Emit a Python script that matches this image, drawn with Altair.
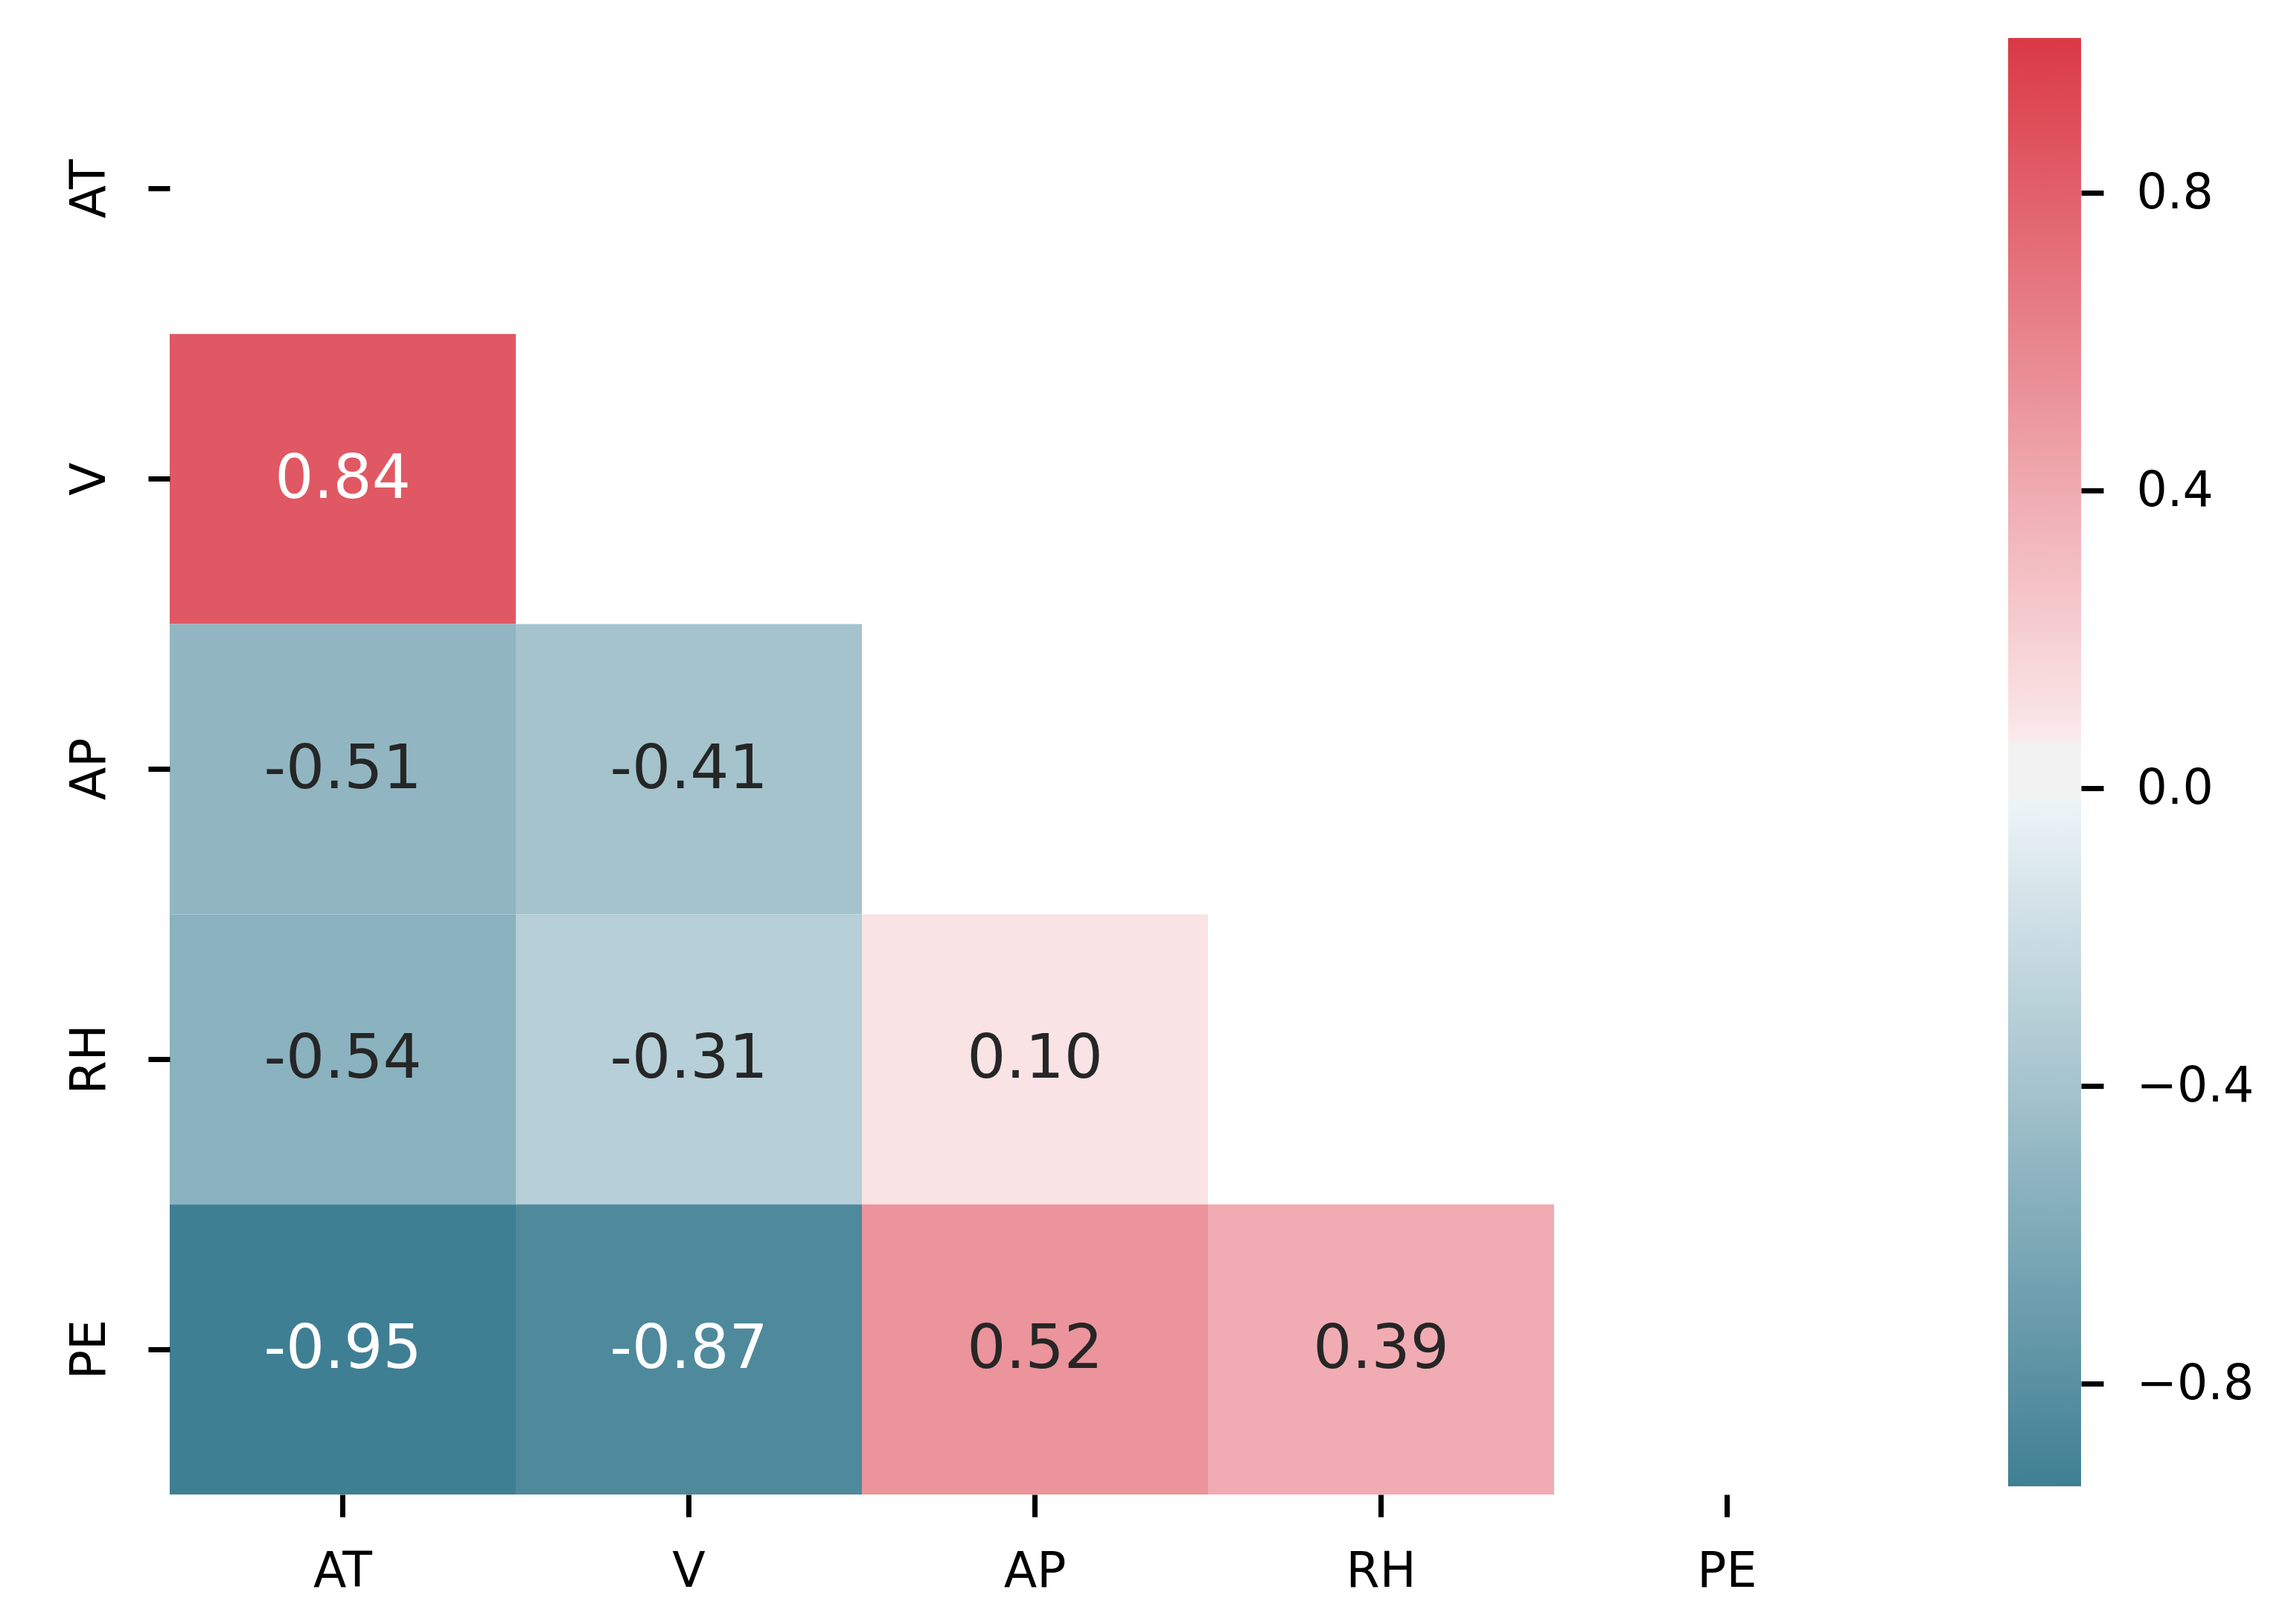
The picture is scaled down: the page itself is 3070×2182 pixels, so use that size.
import altair as alt
import pandas as pd

# ---- data ----
labels = ["AT", "V", "AP", "RH", "PE"]
row_names = ["V", "AP", "AP", "RH", "RH", "RH", "PE", "PE", "PE", "PE"]
col_names = ["AT", "AT", "V", "AT", "V", "AP", "AT", "V", "AP", "RH"]
corr_values = [0.84, -0.51, -0.41, -0.54, -0.31, 0.10, -0.95, -0.87, 0.52, 0.39]
cbar_ticks = [-0.8, -0.4, 0.0, 0.4, 0.8]
vmin, vmax = -0.95, 1.0          # colour normalisation
cb_lo, cb_hi = -0.938, 1.008     # extent of the drawn colour bar

# diverging palette (220 -> 10), as fractions along the colormap
pal_fracs = [0.0, 122 / 255, 123 / 255, 132 / 255, 133 / 255, 1.0]
pal_colors = ["#3f7f93", "#edf4f7", "#f2f2f2", "#f2f2f2", "#fbe9eb", "#da3a47"]
pal_values = [vmin + f * (vmax - vmin) for f in pal_fracs]

FONT = "DejaVu Sans"

# layout (pixels)
GRID_W, GRID_H = 2325, 1949
TOP_GAP = 8                       # colour bar starts this much above the grid
CB_W, CB_H = 98, 1946
y_outer = TOP_GAP / (2 * GRID_H / len(labels))

df = pd.DataFrame({"row": row_names, "col": col_names, "value": corr_values})
df["label"] = [f"{v:.2f}" for v in corr_values]

base = alt.Chart(df).encode(
    x=alt.X(
        "col:N",
        scale=alt.Scale(domain=labels, paddingInner=0, paddingOuter=0),
        axis=alt.Axis(
            title=None, labelAngle=0, domain=False, tickSize=30, tickWidth=7,
            tickColor="black", labelFont=FONT, labelFontSize=65,
            labelColor="black", labelPadding=42,
        ),
    ),
    y=alt.Y(
        "row:N",
        scale=alt.Scale(domain=labels, paddingInner=0, paddingOuter=y_outer, align=1),
        axis=alt.Axis(
            title=None, labelAngle=270, labelAlign="center",
            labelBaseline="alphabetic", domain=False, tickSize=29, tickWidth=7,
            tickColor="black", labelFont=FONT, labelFontSize=65,
            labelColor="black", labelPadding=59,
        ),
    ),
)

rects = base.mark_rect().encode(
    color=alt.Color(
        "value:Q",
        scale=alt.Scale(domain=pal_values, range=pal_colors, interpolate="rgb"),
        legend=None,
    )
)
texts = base.mark_text(font=FONT, fontSize=82, baseline="middle").encode(
    text="label:N",
    color=alt.condition("abs(datum.value) > 0.7", alt.value("#ffffff"), alt.value("#262626")),
)
heat = alt.layer(rects, texts).properties(width=GRID_W, height=GRID_H + TOP_GAP)

# ---- colorbar ----
cb_df = pd.DataFrame({"lo": [cb_lo], "hi": [cb_hi]})
stops = []
for c, v in zip(pal_colors, pal_values):
    off = min(1.0, max(0.0, (v - cb_lo) / (cb_hi - cb_lo)))
    stops.append(alt.GradientStop(color=c, offset=off))
gradient = alt.LinearGradient(gradient="linear", stops=stops, x1=0, x2=0, y1=1, y2=0)

cbar = (
    alt.Chart(cb_df)
    .mark_rect(color=gradient)
    .encode(
        x=alt.value(0),
        x2=alt.value(CB_W),
        y=alt.Y(
            "lo:Q",
            scale=alt.Scale(domain=[cb_lo, cb_hi], nice=False, zero=False),
            axis=alt.Axis(
                orient="right", values=cbar_ticks, format=".1f", title=None,
                domain=False, grid=False, tickSize=30, tickWidth=7,
                tickColor="black", labelFont=FONT, labelFontSize=65,
                labelColor="black", labelPadding=44,
            ),
        ),
        y2="hi:Q",
    )
    .properties(width=CB_W, height=CB_H)
)

chart = (
    alt.hconcat(heat, cbar, spacing=145)
    .properties(padding={"left": 79, "top": 43, "right": 5, "bottom": 5},
                background="white")
    .configure_view(strokeWidth=0)
)

chart.save("out.html", embed_options={"renderer": "svg", "actions": False})
